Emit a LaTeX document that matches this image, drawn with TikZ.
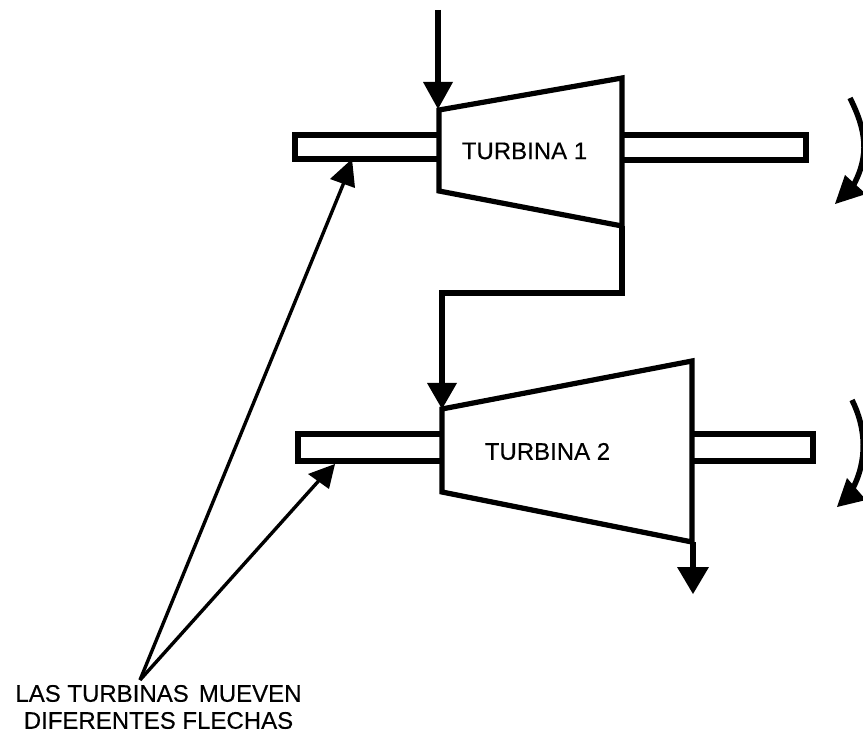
\documentclass[tikz,border=0pt]{standalone}
\usepackage{fontspec}
\setmainfont[FakeBold=0.3]{Liberation Sans}
\begin{document}
\begin{tikzpicture}[x=1pt,y=-1pt,
  heavy/.style={line width=5.2pt,line join=miter},
  rot/.style={line width=5.5pt},
  thin2/.style={line width=3.4pt},
  tip/.style={fill=black,draw=none},
  lab/.style={font=\fontsize{24pt}{27pt}\selectfont,align=center,inner sep=0pt}]
\useasboundingbox (0,0) rectangle (863,735);
\fill[white] (0,0) rectangle (863,735);
% shafts
\draw[heavy] (439,135) -- (295,135) -- (295,159) -- (439,159);
\draw[heavy] (622,135) -- (806,135) -- (806,160) -- (622,160);
\draw[heavy] (441,434) -- (298,434) -- (298,461) -- (441,461);
\draw[heavy] (692,434) -- (813,434) -- (813,461) -- (692,461);
% turbines
\draw[heavy] (439,110) -- (622,78) -- (622,226) -- (439,191) -- cycle;
\draw[heavy] (442,409) -- (692,361) -- (692,542) -- (442,492) -- cycle;
% connector
\coordinate (t1out) at (622,226);
\coordinate (t2in) at (442,386);
\draw[heavy] (t1out) -- (622,293) -- (442,293) -- (t2in);
\fill[tip] (427,383) -- (457,383) -- (442,409) -- cycle;
% input
\coordinate (inA) at (438,10);
\coordinate (inB) at (438,84);
\draw[heavy] (inA) -- (inB);
\fill[tip] (423,82) -- (453,82) -- (438,109) -- cycle;
% output
\coordinate (outA) at (693,542);
\coordinate (outB) at (693,570);
\draw[heavy] (outA) -- (outB);
\fill[tip] (677,567) -- (709,567) -- (693,594) -- cycle;
% rotations
\draw[rot] (850,98) .. controls (866,130) and (870,155) .. (853,186);
\fill[tip] (835,204) -- (866,194) -- (845,175) -- cycle;
\draw[rot] (852,400) .. controls (866,428) and (868,460) .. (852,490);
\fill[tip] (837,507) -- (866,500) -- (847,478) -- cycle;
% labels
\node[lab] (t1) at (524.5,151) {TURBINA 1};
\node[lab] (t2) at (547.5,451.5) {TURBINA 2};
\node[lab] (note) at (158.5,707) {LAS TURBINAS\hspace{0.42em}MUEVEN\\DIFERENTES FLECHAS};
% pointers
\coordinate (p1) at (347,175);
\coordinate (p2) at (323,476);
\coordinate (src) at (140,680);
\draw[thin2] (src) -- (p1);
\draw[thin2] (src) -- (p2);
\fill[tip] (352,159) -- (330,179) -- (355,188) -- cycle;
\fill[tip] (335,464) -- (308,474) -- (329,489) -- cycle;
\end{tikzpicture}
\end{document}
